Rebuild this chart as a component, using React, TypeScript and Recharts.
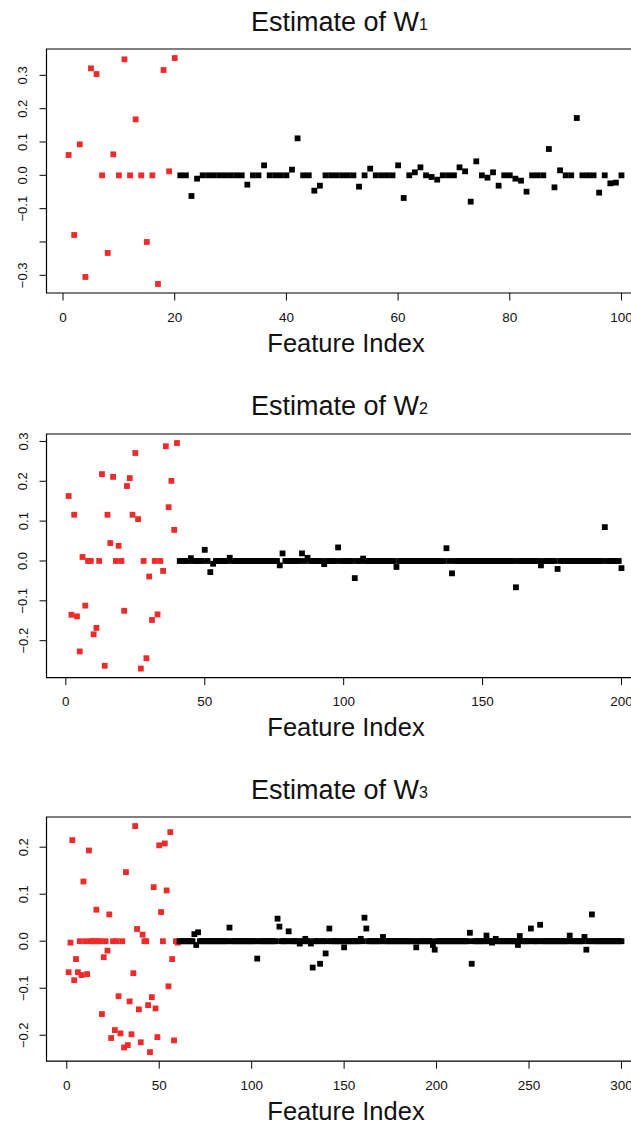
import React from 'react';
import { ScatterChart, Scatter, XAxis, YAxis, ReferenceArea } from 'recharts';

const FONT = '"Liberation Sans", Arial, Helvetica, sans-serif';
const RED = '#EE2A2A';
const BLACK = '#000000';

// ---------- Panel 1 : Estimate of W1 (100 features, 1..20 red) ----------
const w1Count = 100;
const w1RedValues = [0.061, -0.179, 0.093, -0.305, 0.321, 0.304, 0, -0.233, 0.063, 0, 0.348, 0, 0.168, 0, -0.2, 0, -0.326, 0.316, 0.012, 0.352];
const w1BlackIndex = [23, 24, 33, 36, 41, 42, 45, 46, 53, 55, 60, 61, 63, 64, 66, 67, 71, 72, 73, 74, 76, 77, 78, 81, 82, 83, 87, 88, 89, 92, 96, 98, 99];
const w1BlackValues = [-0.062, -0.01, -0.028, 0.03, 0.017, 0.111, -0.046, -0.031, -0.034, 0.02, 0.03, -0.068, 0.009, 0.024, -0.005, -0.013, 0.024, 0.012, -0.079, 0.042, -0.007, 0.009, -0.031, -0.01, -0.016, -0.049, 0.079, -0.036, 0.015, 0.172, -0.052, -0.024, -0.022];
const w1XTicks = [0, 20, 40, 60, 80, 100];
const w1YTicks = [-0.3, -0.2, -0.1, 0, 0.1, 0.2, 0.3];
const w1YTickLabels = ['\u22120.3', '', '\u22120.1', '0.0', '0.1', '0.2', '0.3'];

// ---------- Panel 2 : Estimate of W2 (200 features, 1..40 red) ----------
const w2Count = 200;
const w2RedValues = [0.163, -0.135, 0.116, -0.139, -0.227, 0.01, -0.112, 0, 0, -0.184, -0.168, 0, 0.218, -0.263, 0.116, 0.045, 0.211, 0, 0.038, 0, -0.125, 0.188, 0.208, 0.116, 0.271, 0.105, -0.27, 0, -0.244, -0.039, -0.148, 0, -0.134, 0, -0.025, 0.288, 0.135, 0.201, 0.078, 0.296];
const w2BlackIndex = [45, 50, 52, 53, 59, 77, 78, 85, 87, 93, 98, 104, 107, 119, 137, 139, 162, 171, 177, 194, 200];
const w2BlackValues = [0.007, 0.028, -0.028, -0.007, 0.008, -0.011, 0.019, 0.019, 0.008, -0.008, 0.034, -0.043, 0.006, -0.015, 0.032, -0.031, -0.066, -0.011, -0.02, 0.085, -0.018];
const w2XTicks = [0, 50, 100, 150, 200];
const w2YTicks = [-0.2, -0.1, 0, 0.1, 0.2, 0.3];
const w2YTickLabels = ['\u22120.2', '\u22120.1', '0.0', '0.1', '0.2', '0.3'];

// ---------- Panel 3 : Estimate of W3 (300 features, 1..60 red) ----------
const w3Count = 300;
const w3RedValues = [
  -0.066, -0.003, 0.215, -0.083, -0.038, -0.066, 0, -0.072, 0.127, 0,
  -0.07, 0.193, 0, 0, 0, 0.067, 0, 0, -0.155, -0.034,
  0, -0.02, 0.057, -0.206, 0, -0.189, 0, -0.117, -0.196, 0,
  -0.226, 0.147, -0.221, -0.128, -0.198, -0.068, 0.245, 0.026, -0.145, -0.215,
  0.014, 0, 0, -0.136, -0.236, -0.119, 0.115, -0.143, -0.204, 0.204,
  0.062, 0, 0.208, 0.108, -0.096, 0.232, -0.038, -0.211, 0, -0.003,
];
const w3BlackIndex = [69, 70, 71, 88, 103, 114, 115, 120, 126, 129, 132, 133, 137, 140, 142, 150, 159, 161, 162, 171, 189, 198, 199, 218, 219, 227, 230, 232, 244, 245, 251, 256, 272, 280, 281, 284];
const w3BlackValues = [0.015, -0.008, 0.019, 0.029, -0.037, 0.048, 0.031, 0.021, -0.005, 0.005, -0.005, -0.056, -0.048, -0.026, 0.027, -0.013, 0.005, 0.05, 0.027, 0.009, -0.013, -0.008, -0.018, 0.018, -0.048, 0.012, -0.003, 0.005, -0.008, 0.011, 0.027, 0.035, 0.012, 0.009, -0.018, 0.057];
const w3XTicks = [0, 50, 100, 150, 200, 250, 300];
const w3YTicks = [-0.2, -0.1, 0, 0.1, 0.2];
const w3YTickLabels = ['\u22120.2', '\u22120.1', '0.0', '0.1', '0.2'];

type Pt = { x: number; y: number };

function buildRed(vals: number[]): Pt[] {
  return vals.map((v, i) => ({ x: i + 1, y: v }));
}
function buildBlack(start: number, end: number, idx: number[], vals: number[]): Pt[] {
  const out: Pt[] = [];
  for (let i = start; i <= end; i++) {
    const k = idx.indexOf(i);
    out.push({ x: i, y: k >= 0 ? vals[k] : 0 });
  }
  return out;
}
// R default axis extension (4%)
function extend(lo: number, hi: number): [number, number] {
  const d = (hi - lo) * 0.04;
  return [lo - d, hi + d];
}

const PLOT_LEFT = 46.5;
const PLOT_RIGHT = 643.6;
const CHART_W = 700;
const SQ = 5.8;

const Square = (props: any) => {
  const { cx, cy, fill } = props;
  if (cx == null || cy == null) return null;
  return <rect x={cx - SQ / 2} y={cy - SQ / 2} width={SQ} height={SQ} fill={fill} />;
};

type PanelProps = {
  plotTop: number;
  plotBottom: number;
  n: number;
  red: Pt[];
  black: Pt[];
  xTicks: number[];
  yTicks: number[];
  yTickLabels: string[];
};

function Panel({ plotTop, plotBottom, n, red, black, xTicks, yTicks, yTickLabels }: PanelProps) {
  const ys = [...red, ...black].map((d) => d.y);
  const yDomain = extend(Math.min(...ys), Math.max(...ys));
  const xDomain = extend(1, n);
  const marginTop = 10;
  const axisH = 40;
  const height = plotBottom - plotTop + marginTop + axisH;

  const XTick = (p: any) => (
    <text x={p.x} y={p.y} dy={21} textAnchor="middle" fontSize={13.5} fontFamily={FONT} fill="#111">
      {String(p.payload.value)}
    </text>
  );
  const YTick = (p: any) => {
    const i = yTicks.findIndex((t) => Math.abs(t - p.payload.value) < 1e-9);
    const label = i >= 0 ? yTickLabels[i] : '';
    const bx = p.x - 12;
    return (
      <text x={bx} y={p.y} transform={`rotate(-90, ${bx}, ${p.y})`} textAnchor="middle" fontSize={13} fontFamily={FONT} fill="#111">
        {label}
      </text>
    );
  };

  return (
    <div style={{ position: 'absolute', left: 0, top: plotTop - marginTop }}>
      <ScatterChart
        width={CHART_W}
        height={height}
        margin={{ top: marginTop, right: CHART_W - PLOT_RIGHT, bottom: 0, left: 0 }}
      >
        <XAxis
          type="number"
          dataKey="x"
          domain={xDomain}
          ticks={xTicks}
          allowDataOverflow
          axisLine={false}
          tickLine={{ stroke: '#000' }}
          tickSize={7.5}
          tickMargin={0}
          height={axisH}
          interval={0}
          tick={XTick}
        />
        <YAxis
          type="number"
          dataKey="y"
          domain={yDomain}
          ticks={yTicks}
          allowDataOverflow
          axisLine={false}
          tickLine={{ stroke: '#000' }}
          tickSize={7}
          tickMargin={0}
          width={PLOT_LEFT}
          interval={0}
          tick={YTick}
        />
        <ReferenceArea
          x1={xDomain[0]}
          x2={xDomain[1]}
          y1={yDomain[0]}
          y2={yDomain[1]}
          fill="none"
          fillOpacity={0}
          stroke="#000"
          strokeWidth={1.2}
          strokeOpacity={1}
          ifOverflow="visible"
        />
        <Scatter data={red} fill={RED} shape={Square} isAnimationActive={false} />
        <Scatter data={black} fill={BLACK} shape={Square} isAnimationActive={false} />
      </ScatterChart>
    </div>
  );
}

const panels = [
  { title: '1', plotTop: 49.3, plotBottom: 293.3, n: w1Count, red: buildRed(w1RedValues), black: buildBlack(21, w1Count, w1BlackIndex, w1BlackValues), xTicks: w1XTicks, yTicks: w1YTicks, yTickLabels: w1YTickLabels },
  { title: '2', plotTop: 433.7, plotBottom: 677.3, n: w2Count, red: buildRed(w2RedValues), black: buildBlack(41, w2Count, w2BlackIndex, w2BlackValues), xTicks: w2XTicks, yTicks: w2YTicks, yTickLabels: w2YTickLabels },
  { title: '3', plotTop: 817.3, plotBottom: 1061.5, n: w3Count, red: buildRed(w3RedValues), black: buildBlack(61, w3Count, w3BlackIndex, w3BlackValues), xTicks: w3XTicks, yTicks: w3YTicks, yTickLabels: w3YTickLabels },
];

export default function App() {
  return (
    <div style={{ position: 'absolute', left: 0, top: 0, width: 631, height: 1126, overflow: 'hidden', background: '#fff' }}>
      {panels.map((p) => (
        <Panel key={p.title} {...p} />
      ))}
      <svg width={631} height={1126} style={{ position: 'absolute', left: 0, top: 0, pointerEvents: 'none' }}>
        {panels.map((p) => (
          <g key={p.title}>
            <text x={251} y={p.plotTop - 18.3} fontSize={27} fontFamily={FONT} fill="#111">
              Estimate of W
              <tspan fontSize={16} dy={-1.5}>{p.title}</tspan>
            </text>
            <text x={346} y={p.plotBottom + 58.4} textAnchor="middle" fontSize={25.5} fontFamily={FONT} fill="#111">
              Feature Index
            </text>
          </g>
        ))}
      </svg>
    </div>
  );
}
